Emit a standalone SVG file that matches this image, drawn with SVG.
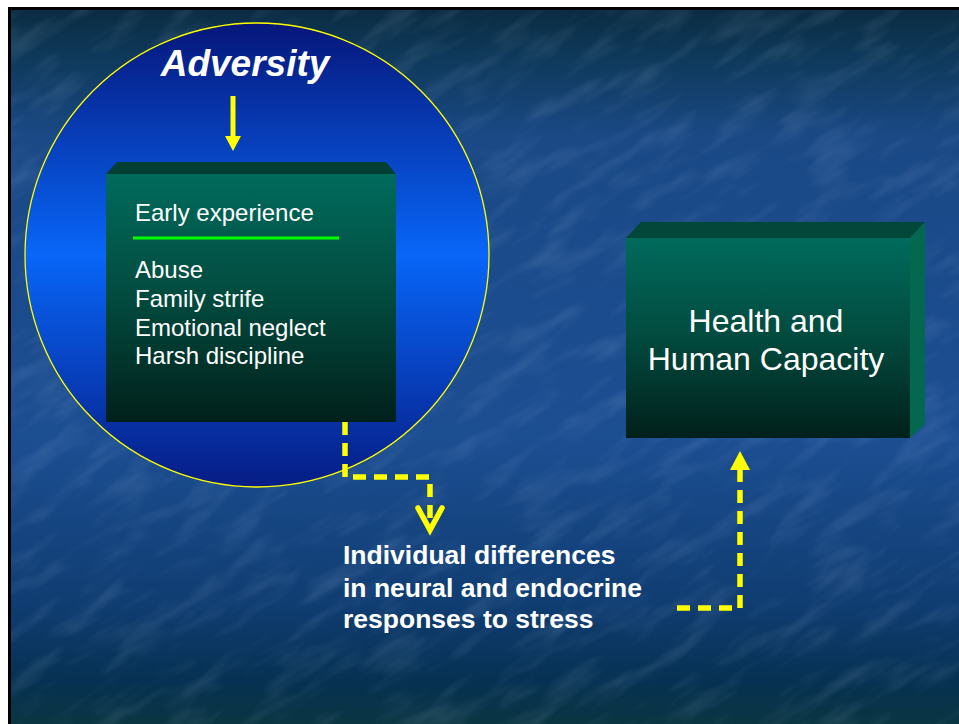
<svg xmlns="http://www.w3.org/2000/svg" width="959" height="724" viewBox="0 0 959 724">
  <defs>
    <linearGradient id="bg" x1="0" y1="0" x2="0" y2="1">
      <stop offset="0" stop-color="#0a2c42"/>
      <stop offset="0.06" stop-color="#0e3858"/>
      <stop offset="0.18" stop-color="#1a4986"/>
      <stop offset="0.6" stop-color="#1c4e92"/>
      <stop offset="0.84" stop-color="#0f3c70"/>
      <stop offset="0.94" stop-color="#063152"/>
      <stop offset="1" stop-color="#0a3542"/>
    </linearGradient>
    <linearGradient id="disc" x1="0" y1="0" x2="0" y2="1">
      <stop offset="0" stop-color="#06167a"/>
      <stop offset="0.5" stop-color="#0866f8"/>
      <stop offset="1" stop-color="#061c84"/>
    </linearGradient>
    <linearGradient id="face" x1="0" y1="0" x2="0" y2="1">
      <stop offset="0" stop-color="#006b5c"/>
      <stop offset="0.5" stop-color="#024a3e"/>
      <stop offset="1" stop-color="#01201b"/>
    </linearGradient>
    <clipPath id="slide">
      <rect x="11" y="10" width="948" height="714"/>
    </clipPath>
    <filter id="grain" x="0" y="0" width="100%" height="100%">
      <feTurbulence type="fractalNoise" baseFrequency="0.014 0.05" numOctaves="3" seed="7" result="n"/>
      <feColorMatrix in="n" type="matrix" values="0 0 0 0 0.6  0 0 0 0 0.75  0 0 0 0 1  0 0 0 1.3 -0.6"/>
    </filter>
    <style>
      .lbl { font-family: "Liberation Sans", Arial, sans-serif; fill: #ffffff; }
      .item { font-size: 24px; }
      .bold { font-size: 26.5px; font-weight: bold; }
      .dash { fill: none; stroke: #ffff00; stroke-width: 5.5; stroke-dasharray: 13 8; }
    </style>
  </defs>

  <!-- page and slide frame -->
  <rect x="0" y="0" width="959" height="724" fill="#ffffff"/>
  <rect x="8" y="7" width="951" height="717" fill="#000000"/>
  <rect x="11" y="10" width="948" height="714" fill="url(#bg)"/>
  <g clip-path="url(#slide)" opacity="0.22">
    <rect x="-300" y="-300" width="1600" height="1400" filter="url(#grain)" transform="rotate(-32 480 362)"/>
  </g>

  <!-- adversity disc -->
  <g id="adversity">
    <circle cx="257" cy="255" r="232" fill="url(#disc)" stroke="#ffff00" stroke-width="1.3"/>
    <text class="lbl" x="245" y="76" font-size="37" font-weight="bold" font-style="italic" text-anchor="middle">Adversity</text>
    <path d="M230.5 96 H235.5 V136 H241 L233 151 L225 136 H230.5 Z" fill="#ffff00"/>
  </g>

  <!-- early experience box -->
  <g id="early-experience">
    <polygon points="106,174 117,162 386,162 396,174" fill="#033f33"/>
    <rect x="106" y="174" width="290" height="248" fill="url(#face)"/>
    <text class="lbl item" x="135" y="221">Early experience</text>
    <line x1="133" y1="238" x2="339" y2="238" stroke="#00ff00" stroke-width="3"/>
    <text class="lbl item" x="135" y="278">Abuse</text>
    <text class="lbl item" x="135" y="307">Family strife</text>
    <text class="lbl item" x="135" y="336">Emotional neglect</text>
    <text class="lbl item" x="135" y="364">Harsh discipline</text>
  </g>

  <!-- health box -->
  <g id="health">
    <polygon points="626,238 641,222 925,222 910,238" fill="#03473a"/>
    <polygon points="910,238 925,222 925,424 910,438" fill="#03684f"/>
    <rect x="626" y="238" width="284" height="200" fill="url(#face)"/>
    <text class="lbl" x="766" y="332" font-size="32" text-anchor="middle">Health and</text>
    <text class="lbl" x="766" y="370" font-size="32" text-anchor="middle">Human Capacity</text>
  </g>

  <!-- stress response label -->
  <g id="responses">
    <text class="lbl bold" x="343" y="564">Individual differences</text>
    <text class="lbl bold" x="343" y="597">in neural and endocrine</text>
    <text class="lbl bold" x="343" y="628">responses to stress</text>
  </g>

  <!-- connectors -->
  <g id="connectors">
    <path class="dash" d="M345 422 V477 H430 V529"/>
    <polyline points="418,508 430,530 442,508" fill="none" stroke="#ffff00" stroke-width="5.5" stroke-linecap="round"/>
    <path class="dash" d="M677 608 H740 V470"/>
    <polygon points="740,451 750,470 730,470" fill="#ffff00"/>
  </g>
</svg>
